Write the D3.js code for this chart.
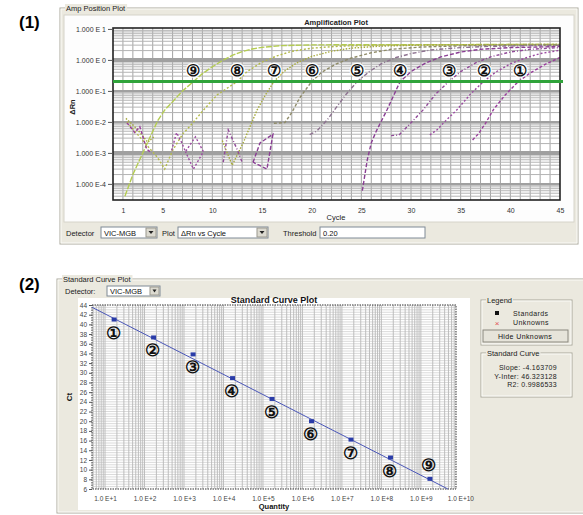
<!DOCTYPE html>
<html>
<head>
<meta charset="utf-8">
<script src="https://cdn.jsdelivr.net/npm/d3@7"></script>
<style>
  body { margin: 0; background: #fff; }
  text { font-family: "Liberation Sans", Arial, sans-serif; }
</style>
</head>
<body>
<script>
// ---- data ----
var sampleLabels = ["①", "②", "③", "④", "⑤", "⑥", "⑦", "⑧", "⑨"];

var cycleTicks = [1, 5, 10, 15, 20, 25, 30, 35, 40, 45];
var drnTicks = [10, 1, 0.1, 0.01, 0.001, 0.0001];
var drnTickLabels = ["1.000 E 1", "1.000 E 0", "1.000 E-1", "1.000 E-2", "1.000 E-3", "1.000 E-4"];
var thresholdValue = 0.20;

// amplification curves: [cycle, dRn], null = value not drawn (<= 0)
var amp1 = [[1.4, 0.0093], [1.9, 0.006], [2.2, 0.0045], [2.7, 0.007], [3.4, 0.0013], [3.9, 0.001], null,
            [36.2, 0.0026], [36.8, 0.0042], [37.5, 0.009], [38.3, 0.025], [39.5, 0.075], [40.8, 0.2],
            [42.0, 0.38], [43.5, 0.72], [45.0, 1.2]];
var amp2 = [[5.9, 0.0012], [6.4, 0.0045], [6.9, 0.0022], [7.3, 0.0011], [8.3, 0.0033], [9.1, 0.0011],
            [8.1, 0.0003], [7.3, 0.0011], null,
            [31.9, 0.0038], [32.6, 0.0055], [33.5, 0.011], [34.6, 0.024], [36.0, 0.08], [37.3, 0.2],
            [38.5, 0.4], [40.0, 0.75], [41.5, 1.15], [43.0, 1.6], [45.0, 2.05]];
var amp3 = [[11.1, 0.0005], [11.6, 0.0055], [12.5, 0.0013], [13.0, 0.0005], null,
            [28.0, 0.0036], [28.8, 0.0038], [29.8, 0.008], [31.2, 0.024], [32.5, 0.08], [33.8, 0.2],
            [35.0, 0.42], [36.5, 0.8], [38.0, 1.25], [40.0, 1.8], [42.0, 2.2], [45.0, 2.5]];
var amp4 = [[14.1, 0.0005], [14.8, 0.0021], [16.1, 0.004], [15.5, 0.0003], [14.1, 0.0005], null,
            [25.1, 0.00006], [25.6, 0.0006], [26.0, 0.0021], [26.5, 0.005], [27.6, 0.025], [28.9, 0.2],
            [30.0, 0.42], [31.5, 0.8], [33.0, 1.25], [35.0, 1.8], [37.0, 2.2], [40.0, 2.5], [45.0, 2.7]];
var amp5 = [[19.8, 0.0039], [20.5, 0.005], [21.6, 0.012], [22.5, 0.03], [23.5, 0.08], [24.6, 0.2],
            [25.8, 0.42], [27.0, 0.75], [28.5, 1.2], [30.0, 1.6], [32.0, 2.1], [35.0, 2.5], [38.0, 2.75],
            [42.0, 2.9], [45.0, 2.95]];
var amp6 = [[16.2, 0.009], [17.3, 0.0095], [18.0, 0.02], [18.8, 0.06], [20.0, 0.2], [21.0, 0.4],
            [22.5, 0.75], [24.0, 1.15], [26.0, 1.7], [28.0, 2.2], [31.0, 2.6], [35.0, 2.85], [40.0, 3.0],
            [45.0, 3.05]];
var amp7 = [[1.3, 0.013], [2.4, 0.006], [3.5, 0.0022], [4.2, 0.0035], null,
            [11.0, 0.0025], [12.0, 0.0004], [13.1, 0.0021], [14.5, 0.024], [15.3, 0.07], [16.2, 0.2],
            [17.2, 0.42], [18.5, 0.8], [20.0, 1.3], [22.0, 1.9], [24.0, 2.4], [27.0, 2.8], [31.0, 3.0],
            [36.0, 3.1], [45.0, 3.15]];
var amp8 = [[1.4, 0.01], [3.0, 0.0025], [4.5, 0.0007], [5.2, 0.0003], [6.0, 0.0012], [7.0, 0.004],
            [8.0, 0.009], [9.1, 0.024], [10.5, 0.075], [12.5, 0.2], [13.5, 0.42], [15.0, 0.85],
            [16.5, 1.35], [18.0, 1.9], [20.0, 2.4], [23.0, 2.8], [27.0, 3.0], [33.0, 3.1], [45.0, 3.15]];
var amp9 = [[1.2, 0.00004], [2.0, 0.0002], [3.0, 0.001], [4.5, 0.011], [5.2, 0.024], [6.0, 0.045],
            [7.0, 0.1], [8.1, 0.2], [9.0, 0.36], [10.0, 0.6], [11.0, 0.95], [12.0, 1.4], [13.0, 1.85],
            [14.0, 2.25], [15.0, 2.55], [17.0, 2.9], [20.0, 3.05], [25.0, 3.1], [45.0, 3.15]];

// standard curve
var quantities = [1.7e1, 1.7e2, 1.7e3, 1.7e4, 1.7e5, 1.7e6, 1.7e7, 1.7e8, 1.7e9];
var ctValues = [41.0, 37.3, 33.8, 28.9, 24.6, 20.0, 16.2, 12.5, 8.1];
var quantityTicks = [1e1, 1e2, 1e3, 1e4, 1e5, 1e6, 1e7, 1e8, 1e9, 1e10];
var quantityTickLabels = ["1.0 E+1", "1.0 E+2", "1.0 E+3", "1.0 E+4", "1.0 E+5",
                          "1.0 E+6", "1.0 E+7", "1.0 E+8", "1.0 E+9", "1.0 E+10"];
var ctTicks = [6, 8, 10, 12, 14, 16, 18, 20, 22, 24, 26, 28, 30, 32, 34, 36, 38, 40, 42, 44];
var slopeValue = -4.163709;
var yInterValue = 46.323128;
var r2Value = 0.9986533;

// ---- styles ----
var ampColors = ["#9a3f9c", "#9b4ba1", "#904a98", "#8a3e94", "#8d7290", "#8f8b68",
                 "#a7ab3e", "#b3ba4c", "#b4cc52"];
var ampDash = ["3,2", "2,2", "3,2,1,2", "4,2", "4,2,1,2", "3,2", "1.5,1.5", "2,2", "6,1.5"];
var panelFill = "#ebe9df";

var svg = d3.select("body").append("svg")
    .attr("width", 583)
    .attr("height", 515);

function groupBox(g, x, y, w, h, caption, bg) {
  g.append("rect").attr("x", x).attr("y", y).attr("width", w).attr("height", h)
    .attr("fill", "none").attr("stroke", "#a9a79c");
  g.append("rect").attr("x", x + 1).attr("y", y + 1).attr("width", w - 2).attr("height", h - 2)
    .attr("fill", "none").attr("stroke", "#fbfbf8");
  var t = g.append("text").attr("x", x + 6).attr("y", y + 3).attr("font-size", 7.5)
    .attr("fill", "#222").text(caption);
  var bb = t.node().getBBox();
  g.insert("rect", function() { return t.node(); })
    .attr("x", bb.x - 1).attr("y", bb.y).attr("width", bb.width + 2).attr("height", bb.height)
    .attr("fill", bg);
}

function dropDown(g, x, y, w, h, label) {
  g.append("rect").attr("x", x).attr("y", y).attr("width", w).attr("height", h)
    .attr("fill", "#fff").attr("stroke", "#7f8a96");
  g.append("text").attr("x", x + 3).attr("y", y + h - 2.5).attr("font-size", 7.5)
    .attr("fill", "#111").text(label);
  g.append("rect").attr("x", x + w - h).attr("y", y + 1).attr("width", h - 1).attr("height", h - 2)
    .attr("fill", "#dcdad0").attr("stroke", "#9a988e");
  g.append("path")
    .attr("d", "M" + (x + w - h + 2.5) + "," + (y + h / 2 - 1.5) + "l" + (h - 6) + ",0l" + (-(h - 6) / 2) + ",3z")
    .attr("fill", "#222");
}

// =========================================================
// (1) Amplification plot
// =========================================================
var ampPanel = svg.append("g");

ampPanel.append("text").attr("x", 19).attr("y", 28)
  .attr("font-family", "Liberation Serif, Times New Roman, serif")
  .attr("font-weight", "bold").attr("font-size", 17).text("(1)");

ampPanel.append("rect").attr("x", 60).attr("y", 8).attr("width", 518).attr("height", 236)
  .attr("fill", panelFill);
ampPanel.append("rect").attr("x", 64).attr("y", 15).attr("width", 510).attr("height", 207)
  .attr("fill", "#fdfdfd").attr("stroke", "#d6d4ca");
groupBox(ampPanel, 60, 8, 518, 236, "Amp Position Plot", panelFill);

var amp = {left: 113, right: 560, top: 28, bottom: 200};

var xAmp = d3.scaleLinear()
    .domain([0, 45])
    .range([amp.left, amp.right]);

var yAmp = d3.scaleLog()
    .domain([Math.pow(10, -4.52), Math.pow(10, 1.03)])
    .range([amp.bottom, amp.top]);

var plotA = ampPanel.append("g");
plotA.append("rect").attr("x", amp.left).attr("y", amp.top)
  .attr("width", amp.right - amp.left).attr("height", amp.bottom - amp.top).attr("fill", "#fff");

// vertical grid, one line per cycle
plotA.selectAll(".vg").data(d3.range(1, 45)).enter().append("line")
  .attr("x1", function(d) { return xAmp(d); }).attr("x2", function(d) { return xAmp(d); })
  .attr("y1", amp.top).attr("y2", amp.bottom)
  .attr("stroke", "#a3a3a3").attr("stroke-width", 1);

// horizontal log grid
var minorDrn = [];
[-5, -4, -3, -2, -1, 0].forEach(function(e) {
  d3.range(2, 10).forEach(function(m) { minorDrn.push(m * Math.pow(10, e)); });
});
minorDrn = minorDrn.filter(function(v) { return yAmp(v) > amp.top && yAmp(v) < amp.bottom; });
plotA.selectAll(".hg").data(minorDrn).enter().append("line")
  .attr("x1", amp.left).attr("x2", amp.right)
  .attr("y1", function(d) { return yAmp(d); }).attr("y2", function(d) { return yAmp(d); })
  .attr("stroke", "#b4b4b4").attr("stroke-width", 1);
plotA.selectAll(".hd").data(drnTicks.slice(1)).enter().append("line")
  .attr("x1", amp.left).attr("x2", amp.right)
  .attr("y1", function(d) { return yAmp(d); }).attr("y2", function(d) { return yAmp(d); })
  .attr("stroke", "#a0a0a0")
  .attr("stroke-width", function(d) { return (d === 1 || d === 0.001) ? 4 : 2; });

// curves
var ampLine = d3.line()
    .defined(function(d) { return d !== null; })
    .x(function(d) { return xAmp(d[0]); })
    .y(function(d) { return yAmp(d[1]); });

var ampSeries = [amp1, amp2, amp3, amp4, amp5, amp6, amp7, amp8, amp9];
plotA.append("g").selectAll("path").data(ampSeries.slice().reverse()).enter().append("path")
  .attr("d", ampLine)
  .attr("fill", "none")
  .attr("stroke", function(d, i) { return ampColors[8 - i]; })
  .attr("stroke-width", 1.4)
  .attr("stroke-dasharray", function(d, i) { return ampDash[8 - i]; });

// frame
plotA.append("rect").attr("x", amp.left).attr("y", amp.top)
  .attr("width", amp.right - amp.left).attr("height", amp.bottom - amp.top)
  .attr("fill", "none").attr("stroke", "#222").attr("stroke-width", 1.6);

// threshold
plotA.append("line")
  .attr("x1", amp.left).attr("x2", amp.right + 3)
  .attr("y1", yAmp(thresholdValue)).attr("y2", yAmp(thresholdValue))
  .attr("stroke", "#2fa33a").attr("stroke-width", 3);

// circled sample numbers at the threshold crossings
plotA.selectAll(".lbl").data(ctValues).enter().append("text")
  .attr("x", function(d) { return xAmp(d); })
  .attr("y", 76)
  .attr("text-anchor", "middle")
  .attr("font-family", "Noto Sans CJK JP, DejaVu Sans, sans-serif")
  .attr("font-size", 16)
  .attr("font-weight", "bold")
  .attr("fill", "#111")
  .attr("stroke", "#fff").attr("stroke-width", 2.5).attr("paint-order", "stroke")
  .text(function(d, i) { return sampleLabels[i]; });

// axes
plotA.append("g")
  .attr("transform", "translate(0," + amp.bottom + ")")
  .call(d3.axisBottom(xAmp).tickValues(cycleTicks).tickSize(0).tickPadding(8))
  .call(function(g) {
    g.select(".domain").remove();
    g.selectAll("text").attr("font-size", 7).attr("fill", "#333");
  });

plotA.append("g")
  .attr("transform", "translate(" + amp.left + ",0)")
  .call(d3.axisLeft(yAmp).tickValues(drnTicks).tickSize(5).tickPadding(2)
    .tickFormat(function(d, i) { return drnTickLabels[i]; }))
  .call(function(g) {
    g.select(".domain").remove();
    g.selectAll("line").attr("stroke", "#555");
    g.selectAll("text").attr("font-size", 7).attr("fill", "#333");
  });

ampPanel.append("text").attr("x", 336).attr("y", 25).attr("text-anchor", "middle")
  .attr("font-size", 7.5).attr("font-weight", "bold").attr("fill", "#222").text("Amplification Plot");
ampPanel.append("text").attr("x", 336).attr("y", 220).attr("text-anchor", "middle")
  .attr("font-size", 7.5).attr("fill", "#222").text("Cycle");
ampPanel.append("text").attr("transform", "translate(75,107) rotate(-90)").attr("text-anchor", "middle")
  .attr("font-size", 7.5).attr("font-weight", "bold").attr("fill", "#222").text("ΔRn");

// control strip
ampPanel.append("text").attr("x", 66).attr("y", 236).attr("font-size", 7.5).attr("fill", "#222").text("Detector");
dropDown(ampPanel, 101, 227, 56, 11, "VIC-MGB");
ampPanel.append("text").attr("x", 162).attr("y", 236).attr("font-size", 7.5).attr("fill", "#222").text("Plot");
dropDown(ampPanel, 178, 227, 90, 11, "ΔRn vs Cycle");
ampPanel.append("text").attr("x", 283).attr("y", 236).attr("font-size", 7.5).attr("fill", "#222").text("Threshold");
ampPanel.append("rect").attr("x", 320).attr("y", 227).attr("width", 105).attr("height", 11)
  .attr("fill", "#fff").attr("stroke", "#7f8a96");
ampPanel.append("text").attr("x", 323).attr("y", 236).attr("font-size", 7.5).attr("fill", "#111")
  .text(thresholdValue.toFixed(2));

// =========================================================
// (2) Standard curve plot
// =========================================================
var scPanel = svg.append("g");

scPanel.append("text").attr("x", 19).attr("y", 290)
  .attr("font-family", "Liberation Serif, Times New Roman, serif")
  .attr("font-weight", "bold").attr("font-size", 17).text("(2)");

scPanel.append("rect").attr("x", 57).attr("y", 279).attr("width", 530).attr("height", 234)
  .attr("fill", panelFill);
groupBox(scPanel, 57, 279, 530, 234, "Standard Curve Plot", panelFill);

scPanel.append("text").attr("x", 65).attr("y", 294).attr("font-size", 7.5).attr("fill", "#222").text("Detector:");
dropDown(scPanel, 107, 286, 53, 10, "VIC-MGB");

scPanel.append("rect").attr("x", 78).attr("y", 298).attr("width", 392).attr("height", 212).attr("fill", "#fff");

var sc = {left: 92, right: 456, top: 305, bottom: 489};

var xQ = d3.scaleLog()
    .domain([Math.pow(10, 0.67), Math.pow(10, 9.89)])
    .range([sc.left, sc.right]);

var yCt = d3.scaleLinear()
    .domain([6, 44])
    .range([sc.bottom, sc.top]);

var plotB = scPanel.append("g");

// horizontal grid every half cycle
plotB.selectAll(".hg").data(d3.range(6.5, 44, 0.5)).enter().append("line")
  .attr("x1", sc.left).attr("x2", sc.right)
  .attr("y1", function(d) { return yCt(d); }).attr("y2", function(d) { return yCt(d); })
  .attr("stroke", "#d0d0d0").attr("stroke-width", 0.8);

// vertical log grid
var minorQ = [];
d3.range(0, 10).forEach(function(e) {
  d3.range(1, 10).forEach(function(m) { minorQ.push(m * Math.pow(10, e)); });
});
minorQ = minorQ.filter(function(v) { return xQ(v) > sc.left && xQ(v) < sc.right; });
plotB.selectAll(".vg").data(minorQ).enter().append("line")
  .attr("x1", function(d) { return xQ(d); }).attr("x2", function(d) { return xQ(d); })
  .attr("y1", sc.top).attr("y2", sc.bottom)
  .attr("stroke", "#b8b8b8").attr("stroke-width", 0.9);

plotB.append("rect").attr("x", sc.left).attr("y", sc.top)
  .attr("width", sc.right - sc.left).attr("height", sc.bottom - sc.top)
  .attr("fill", "none").attr("stroke", "#333").attr("stroke-width", 1)
  .attr("stroke-dasharray", "1.5,1");

// regression line Ct = slope * log10(q) + yInter, clipped to the frame
var qStart = xQ.domain()[0];
var qEnd = Math.pow(10, (6 - yInterValue) / slopeValue);
plotB.append("line")
  .attr("x1", xQ(qStart)).attr("y1", yCt(slopeValue * Math.log10(qStart) + yInterValue))
  .attr("x2", xQ(qEnd)).attr("y2", yCt(6))
  .attr("stroke", "#4b57b8").attr("stroke-width", 1);

// standards
plotB.selectAll(".pt").data(ctValues).enter().append("rect")
  .attr("x", function(d, i) { return xQ(quantities[i]) - 2.5; })
  .attr("y", function(d) { return yCt(d) - 2; })
  .attr("width", 5).attr("height", 4)
  .attr("fill", "#2a3ca8");

plotB.selectAll(".lbl").data(ctValues).enter().append("text")
  .attr("x", function(d, i) { return xQ(quantities[i]) - 1; })
  .attr("y", function(d, i) { return yCt(d) + (i === 8 ? -8 : 19); })
  .attr("text-anchor", "middle")
  .attr("font-family", "Noto Sans CJK JP, DejaVu Sans, sans-serif")
  .attr("font-size", 17)
  .attr("font-weight", "bold")
  .attr("fill", "#111")
  .text(function(d, i) { return sampleLabels[i]; });

plotB.append("g")
  .attr("transform", "translate(" + sc.left + ",0)")
  .call(d3.axisLeft(yCt).tickValues(ctTicks).tickSize(3).tickPadding(2))
  .call(function(g) {
    g.select(".domain").remove();
    g.selectAll("line").attr("stroke", "#555");
    g.selectAll("text").attr("font-size", 6.5).attr("fill", "#444");
  });

plotB.append("g")
  .attr("transform", "translate(0," + sc.bottom + ")")
  .call(d3.axisBottom(xQ).tickValues(quantityTicks).tickSize(0).tickPadding(7)
    .tickFormat(function(d, i) { return quantityTickLabels[i]; }))
  .call(function(g) {
    g.select(".domain").remove();
    g.selectAll("text").attr("font-size", 6.5).attr("fill", "#444");
  });

scPanel.append("text").attr("x", 274).attr("y", 303).attr("text-anchor", "middle")
  .attr("font-size", 9).attr("font-weight", "bold").attr("fill", "#111").text("Standard Curve Plot");
scPanel.append("text").attr("x", 274).attr("y", 509).attr("text-anchor", "middle")
  .attr("font-size", 7.5).attr("font-weight", "bold").attr("fill", "#111").text("Quantity");
scPanel.append("text").attr("transform", "translate(72,397) rotate(-90)").attr("text-anchor", "middle")
  .attr("font-size", 8).attr("font-weight", "bold").attr("fill", "#111").text("Ct");

// legend
groupBox(scPanel, 481, 300, 91, 45, "Legend", panelFill);
scPanel.append("rect").attr("x", 495).attr("y", 311).attr("width", 4).attr("height", 4).attr("fill", "#111");
scPanel.append("text").attr("x", 513).attr("y", 315.5).attr("font-size", 7).attr("fill", "#222")
  .attr("letter-spacing", 0.4).text("Standards");
scPanel.append("text").attr("x", 497).attr("y", 326).attr("text-anchor", "middle").attr("font-size", 8)
  .attr("fill", "#e05050").text("×");
scPanel.append("text").attr("x", 513).attr("y", 324.5).attr("font-size", 7).attr("fill", "#222")
  .attr("letter-spacing", 0.4).text("Unknowns");
scPanel.append("rect").attr("x", 483).attr("y", 330).attr("width", 85).attr("height", 12)
  .attr("fill", "#e6e4da").attr("stroke", "#8a887e");
scPanel.append("text").attr("x", 525).attr("y", 339).attr("text-anchor", "middle").attr("font-size", 7)
  .attr("fill", "#111").attr("letter-spacing", 0.4).text("Hide Unknowns");

groupBox(scPanel, 481, 353, 91, 44, "Standard Curve", panelFill);
var scText = ["Slope: " + slopeValue, "Y-Inter: " + yInterValue, "R2: " + r2Value];
scPanel.selectAll(".sct").data(scText).enter().append("text")
  .attr("x", 557).attr("y", function(d, i) { return 370 + i * 8.5; })
  .attr("text-anchor", "end").attr("font-size", 7).attr("fill", "#222").attr("letter-spacing", 0.3)
  .text(function(d) { return d; });
</script>
</body>
</html>
